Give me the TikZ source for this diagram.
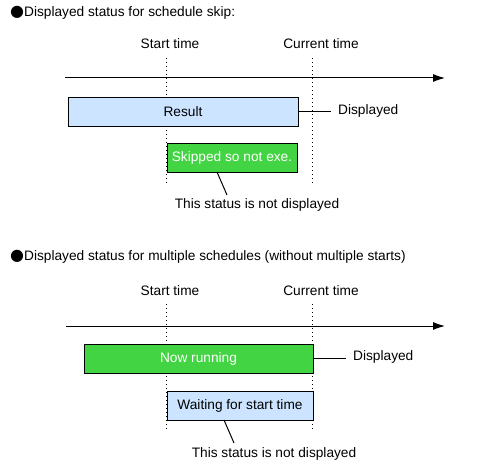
\documentclass[tikz,border=0pt]{standalone}
\usepackage{fontspec}
\setmainfont{Liberation Sans}
\newfontfamily\symfont{DejaVu Sans}
\usetikzlibrary{arrows.meta}
\definecolor{lblue}{RGB}{204,228,255}
\definecolor{sgreen}{RGB}{66,212,66}
\newcommand{\bigdot}{{\symfont\fontsize{16}{15}\selectfont ●}}
\begin{document}
\begin{tikzpicture}[x=1pt,y=-1pt,
  every node/.style={font=\fontsize{13.7}{15}\selectfont, inner sep=0pt},
  bluebox/.style={draw=black, line width=1pt, fill=lblue, anchor=north west},
  greenbox/.style={draw=black, line width=1pt, fill=sgreen, text=white, anchor=north west},
  timeline/.style={line width=1pt, -{Latex[length=12pt,width=8pt]}},
  guide/.style={line width=1pt, dash pattern=on 1pt off 3pt},
  lead/.style={line width=1pt}]
\useasboundingbox (0,0) rectangle (486,468);

% ---------- section 1 ----------
\node[anchor=west] (t1) at (10,13) {\bigdot Displayed status for schedule skip:};
\node (st1) at (170,44) {Start time};
\node (ct1) at (321,44) {Current time};
\coordinate (s1a) at (166,58); \coordinate (s1b) at (166,185);
\coordinate (c1a) at (312,58); \coordinate (c1b) at (312,185);
\draw[guide] (s1a) -- (s1b);
\draw[guide] (c1a) -- (c1b);
\coordinate (a1s) at (65,78); \coordinate (a1e) at (445,78);
\draw[timeline] (a1s) -- (a1e);
\node[bluebox, minimum width=230pt, minimum height=29pt] (res) at (67.5,96.5) {Result};
\node[anchor=west, inner xsep=7pt] (d1) at (331,111) {Displayed};
\draw[lead] (res.east) -- (res.east -| d1.west);
\node[greenbox, minimum width=130pt, minimum height=29pt] (skip) at (166.5,142.5) {Skipped so not exe.};
\node (n1) at (257,205) {This status is not displayed};
\coordinate (l1a) at (217,172); \coordinate (l1b) at (227,195);
\draw[lead] (l1a) -- (l1b);

% ---------- section 2 ----------
\node[anchor=west] (t2) at (10,257) {\bigdot Displayed status for multiple schedules (without multiple starts)};
\node (st2) at (170,291) {Start time};
\node (ct2) at (321,291) {Current time};
\coordinate (s2a) at (166,304); \coordinate (s2b) at (166,430);
\coordinate (c2a) at (312,304); \coordinate (c2b) at (312,430);
\draw[guide] (s2a) -- (s2b);
\draw[guide] (c2a) -- (c2b);
\coordinate (a2s) at (66,326); \coordinate (a2e) at (445,326);
\draw[timeline] (a2s) -- (a2e);
\node[greenbox, minimum width=229pt, minimum height=29pt] (run) at (83.5,343.5) {Now running};
\node[anchor=west, inner xsep=7pt] (d2) at (346,357) {Displayed};
\draw[lead] (run.east) -- (run.east -| d2.west);
\node[bluebox, minimum width=146pt, minimum height=29pt] (wait) at (166.5,390.5) {Waiting for start time};
\node (n2) at (274,454) {This status is not displayed};
\coordinate (l2a) at (224,420); \coordinate (l2b) at (234,443);
\draw[lead] (l2a) -- (l2b);
\end{tikzpicture}
\end{document}
